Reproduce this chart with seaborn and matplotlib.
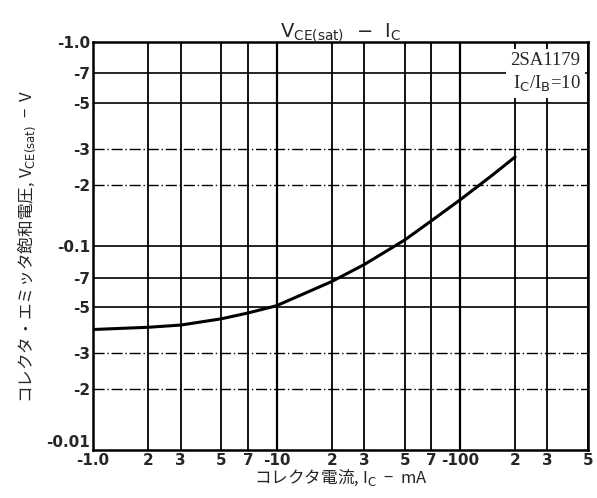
import matplotlib
matplotlib.use("Agg")
import matplotlib.pyplot as plt
import seaborn as sns
import pandas as pd

# ── Data (magnitudes) ──────────────────────────────────────────
ic_ma = [1, 2, 3, 5, 7, 10, 20, 30, 50, 70, 100, 150, 200]
vce_sat = [0.039, 0.040, 0.041, 0.044, 0.047, 0.051, 0.067, 0.081, 0.107,
           0.133, 0.168, 0.222, 0.273]

x_ticks = [1, 2, 3, 5, 7, 10, 20, 30, 50, 70, 100, 200, 300, 500]
x_labels = ["-1.0", "2", "3", "5", "7", "-10", "2", "3", "5", "7", "-100",
            "2", "3", "5"]
y_ticks = [0.01, 0.02, 0.03, 0.05, 0.07, 0.1, 0.2, 0.3, 0.5, 0.7, 1.0]
y_labels = ["-0.01", "-2", "-3", "-5", "-7", "-0.1", "-2", "-3", "-5", "-7",
            "-1.0"]

df = pd.DataFrame({"Ic": ic_ma, "Vce": vce_sat})

sns.set_style("white")
plt.rcParams["font.family"] = ["DejaVu Sans", "Noto Sans CJK JP"]
jp = ["Noto Sans CJK JP", "DejaVu Sans"]

fig = plt.figure(figsize=(5.97, 4.98), dpi=100)
ax = fig.add_axes([0.156, 0.096, 0.829, 0.820])

ax.set_xscale("log")
ax.set_yscale("log")
ax.set_xlim(1, 500)
ax.set_ylim(0.01, 1.0)

# grid
for xv in x_ticks[1:]:
    ax.axvline(xv, color="black", lw=1.6 if xv in (10, 100) else 1.3, zorder=1)
for yv in y_ticks[1:-1]:
    if yv in (0.02, 0.03, 0.2, 0.3):
        ax.axhline(yv, color="black", lw=1.0, ls=(0, (8, 2, 1, 2)), zorder=1)
    else:
        ax.axhline(yv, color="black", lw=1.2, zorder=1)

sns.lineplot(data=df, x="Ic", y="Vce", ax=ax, color="black", lw=2.2, zorder=3)

ax.set_xticks(x_ticks)
ax.set_xticklabels(x_labels, fontsize=11, fontweight="bold")
ax.set_yticks(y_ticks)
ax.set_yticklabels(y_labels, fontsize=11, fontweight="bold")
ax.minorticks_off()
ax.tick_params(length=0, pad=2)
# lift the bottom y label so it clears the first x label
ax.get_yticklabels()[0].set_va("bottom")
for s in ax.spines.values():
    s.set_linewidth(1.8)
    s.set_color("black")

ax.set_xlabel("コレクタ電流, I$_\\mathrm{C}$  −  mA", fontsize=12, family=jp,
              labelpad=0)
ax.set_ylabel("コレクタ・エミッタ飽和電圧, V$_\\mathrm{CE(sat)}$  −  V",
              fontsize=12, family=jp, labelpad=6)
ax.set_title("V$_\\mathrm{CE(sat)}$  −  I$_\\mathrm{C}$", fontsize=14, pad=3)

ax.text(0.985, 0.975, "2SA1179\nI$_\\mathrm{C}$/I$_\\mathrm{B}$=10",
        transform=ax.transAxes, ha="right", va="top", fontsize=13.5,
        family="Liberation Serif", linespacing=1.3, zorder=5,
        bbox=dict(facecolor="white", edgecolor="none", pad=3))

plt.savefig("out.png", dpi=100)
